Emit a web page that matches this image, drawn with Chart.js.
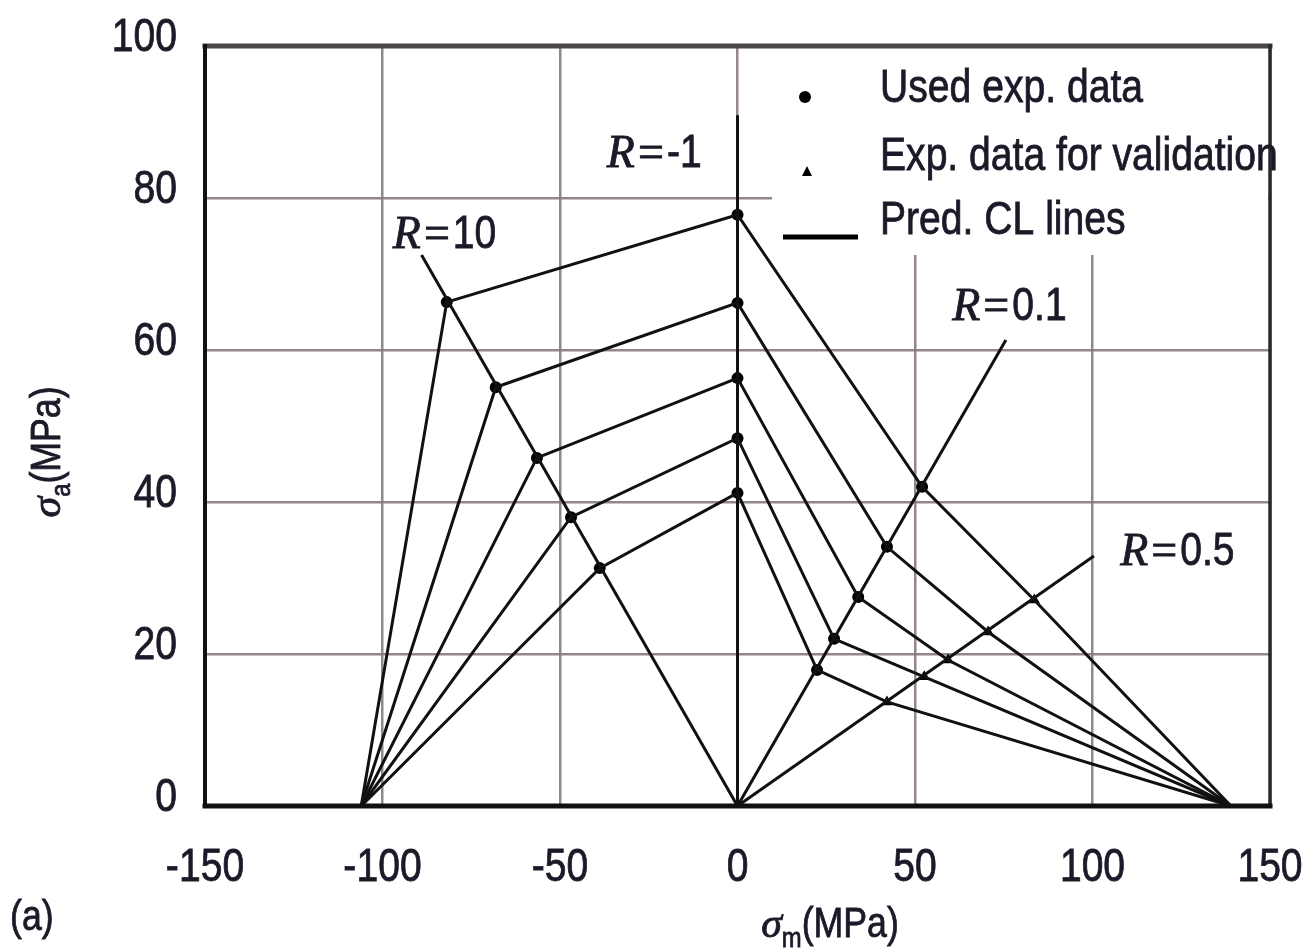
<!DOCTYPE html>
<html>
<head>
<meta charset="utf-8">
<script src="https://cdn.jsdelivr.net/npm/chart.js@4.4.1/dist/chart.umd.min.js"></script>
<style>
  html, body { margin: 0; padding: 0; background: #fff; }
  #wrap { width: 1312px; height: 950px; }
</style>
</head>
<body>
<div id="wrap"><canvas id="haighChart" width="1312" height="950"></canvas></div>
<script>
const xTicks = [-150, -100, -50, 0, 50, 100, 150];
const yTicks = [0, 20, 40, 60, 80, 100];

// knee points of the five constant life lines (top line first)
const r10Sm = [-81.9, -68.1, -56.5, -46.9, -38.8];
const r10Sa = [66.3, 55.1, 45.8, 38.0, 31.3];
const rm1Sm = [0, 0, 0, 0, 0];
const rm1Sa = [77.8, 66.2, 56.3, 48.4, 41.2];
const r01Sm = [52.0, 42.1, 34.0, 27.2, 22.4];
const r01Sa = [42.0, 34.1, 27.5, 22.0, 17.9];
const r05Sm = [83.6, 70.6, 59.3, 52.6, 42.1];
const r05Sa = [27.1, 22.9, 19.2, 17.0, 13.7];

// where all the lines meet the sigma_m axis
const leftFocus = -106;
const rightFocus = 139;

// R rays from the origin
const rayNames = ['10', '-1', '0.1', '0.5'];
const rayEndSm = [-89, 0, 75.6, 100.4];
const rayEndSa = [72.5, 90.9, 61.3, 32.9];
const rayLabelSm = [-97.1, -36.8, 60.5, 107.8];
const rayLabelSa = [73.4, 84.1, 63.9, 31.7];

const legendNames = ['Used exp. data', 'Exp. data for validation', 'Pred. CL lines'];

// no condensed font installed: Liberation Sans squeezed sideways stands in
const sans = '"Liberation Sans", Arial, sans-serif';
const serif = '"Liberation Serif", "DejaVu Serif", serif';
const squeeze = 0.85;
const textColor = '#1a1a28';
const gridColor = 'rgba(135,122,122,0.9)';

const datasets = [];

// constant life lines
for (let i = 0; i < rm1Sa.length; i++) {
  datasets.push({
    label: 'CL' + i,
    showLine: true,
    data: [
      { x: leftFocus, y: 0 },
      { x: r10Sm[i], y: r10Sa[i] },
      { x: rm1Sm[i], y: rm1Sa[i] },
      { x: r01Sm[i], y: r01Sa[i] },
      { x: r05Sm[i], y: r05Sa[i] },
      { x: rightFocus, y: 0 }
    ],
    borderColor: '#111',
    borderWidth: 3,
    pointRadius: 0
  });
}

// rays for each stress ratio
rayNames.forEach((name, i) => {
  datasets.push({
    label: 'R=' + name,
    showLine: true,
    data: [{ x: 0, y: 0 }, { x: rayEndSm[i], y: rayEndSa[i] }],
    borderColor: '#111',
    borderWidth: 3,
    pointRadius: 0
  });
});

const usedPts = [];
for (let i = 0; i < rm1Sa.length; i++) {
  usedPts.push({ x: r10Sm[i], y: r10Sa[i] });
  usedPts.push({ x: rm1Sm[i], y: rm1Sa[i] });
  usedPts.push({ x: r01Sm[i], y: r01Sa[i] });
}
datasets.push({
  label: legendNames[0],
  data: usedPts,
  pointStyle: 'circle',
  pointRadius: 6,
  backgroundColor: '#000',
  borderColor: '#000',
  borderWidth: 0
});

datasets.push({
  label: legendNames[1],
  data: r05Sm.map((v, i) => ({ x: v, y: r05Sa[i] })),
  pointStyle: 'triangle',
  pointRadius: 6.5,
  backgroundColor: '#000',
  borderColor: '#000',
  borderWidth: 0
});

// one piece of text, squeezed horizontally unless sx is given, lightly emboldened
function drawText(ctx, text, x, y, font, align, baseline, sx) {
  ctx.save();
  ctx.translate(x, y);
  ctx.scale(sx || squeeze, 1);
  ctx.font = font;
  ctx.textAlign = align;
  ctx.textBaseline = baseline;
  ctx.strokeStyle = ctx.fillStyle;
  ctx.lineWidth = 0.8;
  ctx.fillText(text, 0, 0);
  ctx.strokeText(text, 0, 0);
  ctx.restore();
}

// a run of pieces with their own font, squeeze and vertical shift
function drawRich(ctx, parts, x, y, align) {
  let total = 0;
  parts.forEach(p => {
    ctx.font = p.font;
    p.w = ctx.measureText(p.text).width * (p.sx || squeeze) + (p.gap || 0) * 2;
    total += p.w;
  });
  let cx = align === 'center' ? x - total / 2 : x;
  parts.forEach(p => {
    drawText(ctx, p.text, cx + (p.gap || 0), y + (p.dy || 0), p.font, 'left', 'alphabetic', p.sx || squeeze);
    cx += p.w;
  });
}

const decorPlugin = {
  id: 'decor',
  beforeDatasetsDraw(chart) {
    const { ctx, scales: { x, y } } = chart;
    // white patch behind the legend
    ctx.save();
    ctx.fillStyle = '#fff';
    const l = x.getPixelForValue(9.7), t = y.getPixelForValue(100);
    ctx.fillRect(l, t, x.getPixelForValue(150) - l - 2, y.getPixelForValue(72.5) - t);
    ctx.restore();
  },
  afterDatasetsDraw(chart) {
    const { ctx, chartArea: a, scales: { x, y } } = chart;
    ctx.save();
    // frame
    ctx.lineCap = 'square';
    ctx.strokeStyle = '#4a4646';
    ctx.lineWidth = 5;
    ctx.beginPath(); ctx.moveTo(a.left, a.top); ctx.lineTo(a.right, a.top); ctx.stroke();
    ctx.strokeStyle = '#2a2828';
    ctx.lineWidth = 3.5;
    ctx.beginPath(); ctx.moveTo(a.right, a.top); ctx.lineTo(a.right, a.bottom); ctx.stroke();
    ctx.strokeStyle = '#111';
    ctx.lineWidth = 4;
    ctx.beginPath(); ctx.moveTo(a.left, a.top); ctx.lineTo(a.left, a.bottom); ctx.stroke();
    ctx.lineWidth = 5;
    ctx.beginPath(); ctx.moveTo(a.left, a.bottom); ctx.lineTo(a.right, a.bottom); ctx.stroke();

    // R labels
    ctx.fillStyle = textColor;
    rayNames.forEach((name, i) => {
      drawRich(ctx, [
        { text: 'R', font: 'italic 46px ' + serif, sx: 1 },
        { text: '=', font: '46px ' + serif, sx: 1, gap: 3 },
        { text: name, font: '46px ' + sans }
      ], x.getPixelForValue(rayLabelSm[i]), y.getPixelForValue(rayLabelSa[i]), 'left');
    });

    // legend
    const lx = 805, ly = [97, 172, 237];
    ctx.fillStyle = '#000';
    ctx.beginPath(); ctx.arc(lx, ly[0], 6, 0, Math.PI * 2); ctx.fill();
    ctx.beginPath();
    ctx.moveTo(lx + 2, ly[1] - 6); ctx.lineTo(lx + 7, ly[1] + 4); ctx.lineTo(lx - 3, ly[1] + 4);
    ctx.closePath(); ctx.fill();
    ctx.strokeStyle = '#000';
    ctx.lineWidth = 5;
    ctx.lineCap = 'butt';
    ctx.beginPath(); ctx.moveTo(783, ly[2]); ctx.lineTo(858, ly[2]); ctx.stroke();
    ctx.fillStyle = textColor;
    legendNames.forEach((n, i) =>
      drawText(ctx, n, 880, [102, 170, 234][i], '46px ' + sans, 'left', 'alphabetic'));
    ctx.restore();
  },
  afterDraw(chart) {
    const { ctx, chartArea: a, scales: { x, y } } = chart;
    ctx.save();
    ctx.fillStyle = textColor;
    // tick labels
    x.ticks.forEach(t => drawText(ctx, String(t.value), x.getPixelForValue(t.value), a.bottom + 75,
      '46px ' + sans, 'center', 'alphabetic'));
    y.ticks.forEach(t => drawText(ctx, String(t.value), a.left - 28, y.getPixelForValue(t.value) + 5,
      '46px ' + sans, 'right', 'alphabetic'));
    // x title
    drawRich(ctx, [
      { text: 'σ', font: 'italic 42px ' + serif, sx: 1 },
      { text: 'm', font: '28px ' + sans, dy: 10 },
      { text: '(MPa)', font: '42px ' + sans }
    ], 830, 937, 'center');
    // y title
    ctx.translate(60, 452);
    ctx.rotate(-Math.PI / 2);
    drawRich(ctx, [
      { text: 'σ', font: 'italic 42px ' + serif, sx: 1 },
      { text: 'a', font: '28px ' + sans, dy: 10 },
      { text: '(MPa)', font: '42px ' + sans }
    ], 0, 0, 'center');
    ctx.restore();
    ctx.save();
    ctx.fillStyle = textColor;
    drawText(ctx, '(a)', 10, 930, '42px ' + sans, 'left', 'alphabetic');
    ctx.restore();
  }
};

new Chart(document.getElementById('haighChart'), {
  type: 'scatter',
  data: { datasets },
  plugins: [decorPlugin],
  options: {
    responsive: false,
    animation: false,
    layout: { padding: { top: 46, right: 42, left: 0, bottom: 0 } },
    plugins: { legend: { display: false }, tooltip: { enabled: false } },
    scales: {
      x: {
        type: 'linear', min: -150, max: 150,
        afterBuildTicks: s => { s.ticks = xTicks.map(v => ({ value: v })); },
        afterFit: s => { s.height = 144; },
        grid: { color: gridColor, lineWidth: 2.5, drawTicks: false },
        border: { display: false },
        ticks: { display: false }
      },
      y: {
        type: 'linear', min: 0, max: 100,
        afterBuildTicks: s => { s.ticks = yTicks.map(v => ({ value: v })); },
        afterFit: s => { s.width = 205; },
        grid: { color: gridColor, lineWidth: 2.5, drawTicks: false },
        border: { display: false },
        ticks: { display: false }
      }
    }
  }
});
</script>
</body>
</html>
